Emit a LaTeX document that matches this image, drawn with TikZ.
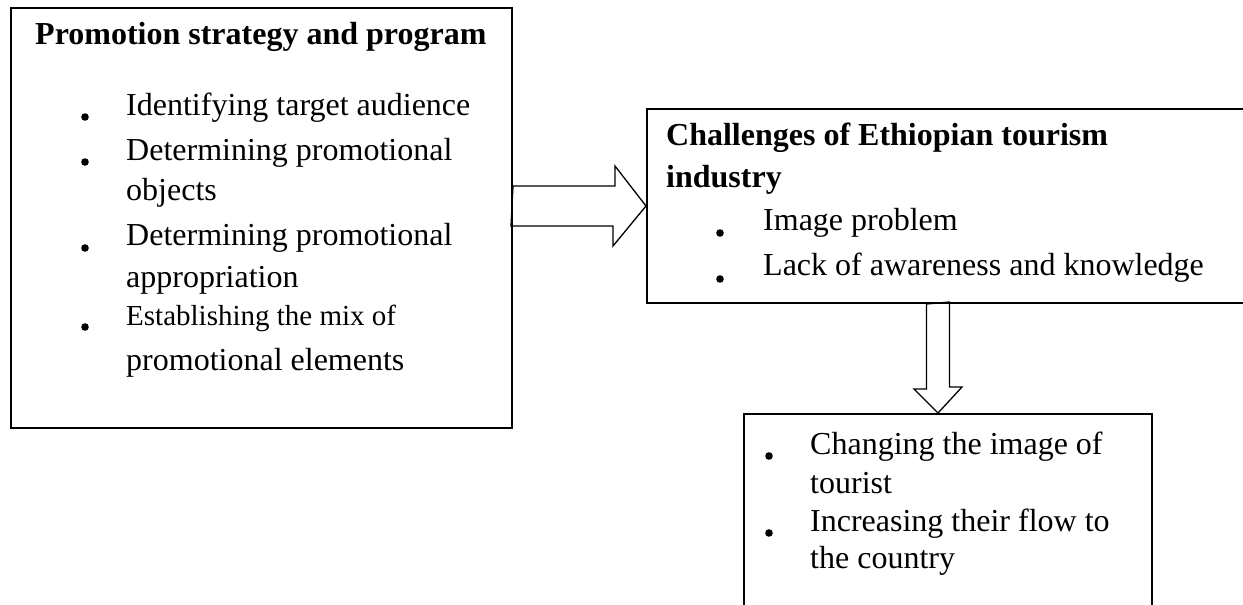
\documentclass[tikz,border=0pt]{standalone}
\usepackage{fontspec}
\setmainfont{Liberation Serif}
\usepackage{tikz}
\usetikzlibrary{calc}

\tikzset{
  txt/.style = {anchor = base west, inner sep = 0pt, font = \fontsize{32}{38}\selectfont},
  txtsmall/.style = {txt, font = \fontsize{29}{35}\selectfont},
  ttl/.style = {txt, font = \fontsize{32}{38}\selectfont\bfseries},
  box/.style = {draw, line width = 2pt, inner sep = 0pt, anchor = north west},
  blk/.style = {draw, line width = 1.3pt, line join = miter},
}

\begin{document}
\begin{tikzpicture}[x = 1pt, y = -1pt]
  \useasboundingbox (0, 0) rectangle (1243, 605);
  \clip (0, 0) rectangle (1243, 605);

  % boxes
  \node[box, minimum width = 501pt, minimum height = 420pt] (promo) at (10, 7) {};
  \node[box, minimum width = 650pt, minimum height = 194pt] (chal) at (646, 108) {};
  \node[box, minimum width = 408pt, minimum height = 250pt] (result) at (743, 413) {};

  % block arrows
  \coordinate (rtail) at (promo.east |- chal.west);
  \draw[blk] ($(rtail) + (0, -20)$) -- ++(102, 0) -- ++(0, -20) -- (chal.west)
    -- ++(-33, 40) -- ++(0, -20) -- ++(-102, 0) -- cycle;

  \coordinate (dtip) at (938, 413);
  \draw[blk] ($(dtip |- chal.south) + (-11.5, 0)$) -- ++(0, 85) -- ++(-12.5, 0) -- (dtip)
    -- ++(24, -26) -- ++(-12.5, 0) -- ++(0, -85) -- cycle;

  % promotion strategy
  \node[ttl] (promottl) at (35, 45) {Promotion strategy and program};
  \node[txt] (audience) at (126, 115) {Identifying target audience};
  \node[txt] (objects) at (126, 160) {Determining promotional};
  \node[txt] (objects2) at (126, 200) {objects};
  \node[txt] (approp) at (126, 245) {Determining promotional};
  \node[txt] (approp2) at (126, 287) {appropriation};
  \node[txtsmall] (mix) at (126, 325) {Establishing the mix of};
  \node[txt] (mix2) at (126, 370) {promotional elements};

  \fill (85, 117) circle (3.8pt);
  \fill (85, 162) circle (3.8pt);
  \fill (85, 248) circle (3.8pt);
  \fill (85, 327) circle (3.8pt);

  % challenges
  \node[ttl] (chalttl) at (666, 145) {Challenges of Ethiopian tourism};
  \node[ttl] (chalttl2) at (666, 187) {industry};
  \node[txt] (image) at (763, 230) {Image problem};
  \node[txt] (aware) at (763, 275) {Lack of awareness and knowledge};

  \fill (720, 233) circle (3.8pt);
  \fill (720, 279) circle (3.8pt);

  % result
  \node[txt] (change) at (810, 454) {Changing the image of};
  \node[txt] (change2) at (810, 493) {tourist};
  \node[txt] (flow) at (810, 531) {Increasing their flow to};
  \node[txt] (flow2) at (810, 568) {the country};

  \fill (769, 456) circle (3.8pt);
  \fill (769, 533) circle (3.8pt);
\end{tikzpicture}
\end{document}
